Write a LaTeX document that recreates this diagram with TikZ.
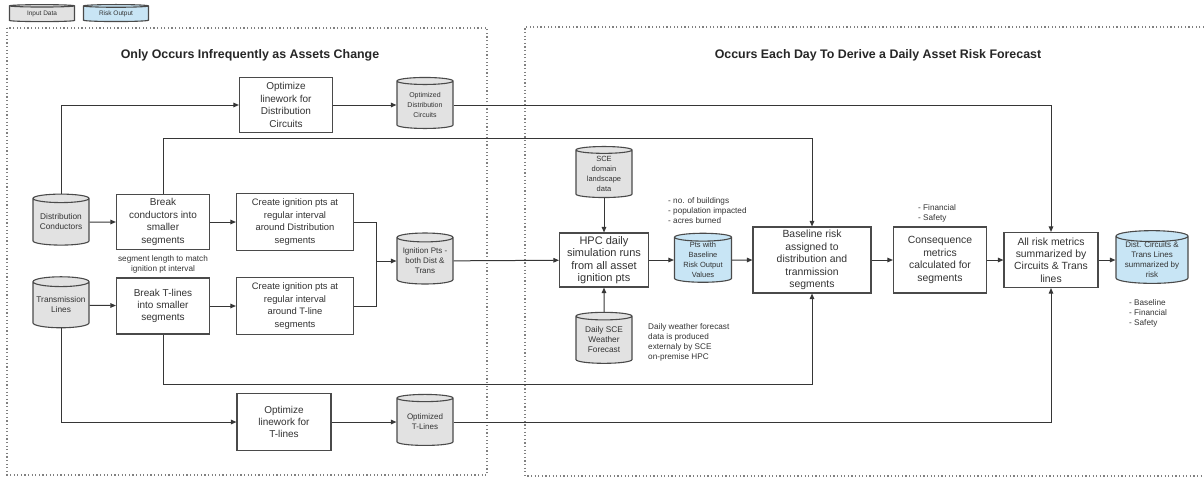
\documentclass[tikz,border=0pt]{standalone}
\usepackage{fontspec}
\setmainfont{Liberation Sans}
\usetikzlibrary{shapes.geometric,arrows.meta}

\definecolor{inputgray}{HTML}{E2E2E2}
\definecolor{riskblue}{HTML}{C8E5F5}
\definecolor{linegray}{HTML}{363636}
\definecolor{framegray}{HTML}{4A4A4A}
\definecolor{textgray}{HTML}{333333}

\begin{document}
\begin{tikzpicture}[
    x=1pt, y=-1pt,
    box/.style={rectangle, draw=framegray, line width=1.1pt, fill=white, minimum width=93pt, minimum height=55pt, align=center, inner sep=1pt, text=textgray, font=\fontsize{10}{12.4}\selectfont},
    store/.style={cylinder, shape border rotate=90, aspect=0.2, draw=framegray, line width=1.1pt, fill=inputgray, minimum width=56pt, minimum height=51pt, inner sep=0pt, align=center, text=textgray, font=\fontsize{7.5}{10}\selectfont},
    risk/.style={store, fill=riskblue},
    note/.style={align=left, inner sep=0pt, text=textgray, font=\fontsize{8.2}{10}\selectfont},
    title/.style={font=\bfseries\fontsize{12.4}{14}\selectfont, text=black!85},
    region/.style={draw=gray, line width=1.2pt, dash pattern=on 1.2pt off 2.4pt},
    arrow/.style={draw=linegray, line width=1pt, -{Triangle[length=5.5pt,width=4.5pt]}},
    link/.style={draw=linegray, line width=1pt}
]

\useasboundingbox (0,0) rectangle (1204,477);

% Legend
\node[store, minimum width=65pt, minimum height=17pt, aspect=0.08, font=\fontsize{6.5}{8}\selectfont] (legendinput) at (42,14) {Input Data};
\node[risk, minimum width=65pt, minimum height=17pt, aspect=0.08, font=\fontsize{6.5}{8}\selectfont] (legendrisk) at (116,14) {Risk Output};

% Regions
\draw[region] (7,28) rectangle (487,475);
\draw[region] (1204,27) -- (525,27) -- (525,476) -- (1204,476);
\node[title] (lefttitle) at (250,55) {Only Occurs Infrequently as Assets Change};
\node[title] (righttitle) at (878,55) {Occurs Each Day To Derive a Daily Asset Risk Forecast};

% Asset inputs
\node[store, font=\fontsize{8.3}{10}\selectfont] (distcond) at (61,222) {Distribution\\Conductors};
\node[store, font=\fontsize{8.3}{10}\selectfont] (translines) at (61,305) {Transmission\\Lines};

% Linework optimisation
\node[box] (optdistbox) at (286,105) {Optimize\\linework for\\Distribution\\Circuits};
\node[store, font=\fontsize{7}{10}\selectfont] (optdistcyl) at (425,105) {Optimized\\Distribution\\Circuits};
\node[box, minimum width=94pt, minimum height=57pt] (opttransbox) at (284,422) {Optimize\\linework for\\T-lines};
\node[store, font=\fontsize{8}{10}\selectfont] (opttranscyl) at (425,422) {Optimized\\T-Lines};

% Segments and ignition points
\node[box] (breakdist) at (163,222) {Break\\conductors into\\smaller\\segments};
\node[box, minimum height=56pt] (breaktrans) at (163,306) {Break T-lines\\into smaller\\segments};
\node[box, minimum width=117pt, minimum height=57pt, font=\fontsize{9.4}{12.4}\selectfont] (createdist) at (295,222) {Create ignition pts at\\regular interval\\around Distribution\\segments};
\node[box, minimum width=117pt, minimum height=57pt, font=\fontsize{9.4}{12.4}\selectfont] (createtrans) at (295,306) {Create ignition pts at\\regular interval\\around T-line\\segments};
\node[store, font=\fontsize{8}{10}\selectfont] (ignition) at (425,261) {Ignition Pts -\\both Dist \&\\Trans};
\node[note, align=center] (segnote) at (163,264) {segment length to match\\ignition pt interval};

% Daily simulation
\node[store] (landscape) at (604,174) {SCE\\domain\\landscape\\data};
\node[box, minimum width=89pt, minimum height=54pt, font=\fontsize{11}{12.4}\selectfont] (hpc) at (604,260) {HPC daily\\simulation runs\\from all asset\\ignition pts};
\node[store, font=\fontsize{8.3}{10}\selectfont] (weather) at (604,340) {Daily SCE\\Weather\\Forecast};
\node[risk, minimum width=57pt, minimum height=49pt] (ptsrisk) at (703,260) {Pts with\\Baseline\\Risk Output\\Values};
\node[note, anchor=west] (impactnote) at (668,211) {- no. of buildings\\- population impacted\\- acres burned};
\node[note, anchor=west] (weathernote) at (648,342) {Daily weather forecast\\data is produced\\externaly by SCE\\on-premise HPC};

% Risk metrics
\node[box, minimum width=118pt, minimum height=66pt, font=\fontsize{10.4}{12.4}\selectfont] (baseline) at (812,260) {Baseline risk\\assigned to\\distribution and\\tranmission\\segments};
\node[box, minimum height=66pt, font=\fontsize{10.4}{12.4}\selectfont] (consequence) at (940,260) {Consequence\\metrics\\calculated for\\segments};
\node[box, minimum width=94pt, font=\fontsize{10.4}{12.4}\selectfont] (allrisk) at (1051,260) {All risk metrics\\summarized by\\Circuits \& Trans\\lines};
\node[risk, minimum width=72pt, font=\fontsize{8}{10}\selectfont] (summary) at (1152,260) {Dist. Circuits \&\\Trans Lines\\summarized by\\risk};
\node[note, anchor=west] (consnote) at (918,213) {- Financial\\- Safety};
\node[note, anchor=west] (summarynote) at (1129,313) {- Baseline\\- Financial\\- Safety};

% Rails
\coordinate (merge) at (376,261);
\coordinate (toprail) at (0,138);
\coordinate (botrail) at (0,384);

% Connections
\draw[arrow] (distcond.north) |- (optdistbox.west);
\draw[arrow] (optdistbox) -- (optdistcyl);
\draw[arrow] (optdistcyl.east) -| (allrisk.north);

\draw[arrow] (distcond) -- (breakdist);
\draw[arrow] (breakdist) -- (createdist);
\draw[arrow] (translines) -- (breaktrans);
\draw[arrow] (breaktrans) -- (createtrans);
\draw[link] (createdist.east) -| (merge);
\draw[link] (createtrans.east) -| (merge);
\draw[arrow] (merge) -- (ignition);

\draw[arrow] (breakdist.north) |- (toprail -| baseline.north) -- (baseline.north);
\draw[arrow] (breaktrans.south) |- (botrail -| baseline.south) -- (baseline.south);

\draw[arrow] (ignition) -- (hpc);
\draw[arrow] (landscape) -- (hpc);
\draw[arrow] (weather) -- (hpc);
\draw[arrow] (hpc) -- (ptsrisk);
\draw[arrow] (ptsrisk) -- (baseline);
\draw[arrow] (baseline) -- (consequence);
\draw[arrow] (consequence) -- (allrisk);
\draw[arrow] (allrisk) -- (summary);

\draw[arrow] (translines.south) |- (opttransbox.west);
\draw[arrow] (opttransbox) -- (opttranscyl);
\draw[arrow] (opttranscyl.east) -| (allrisk.south);

\end{tikzpicture}
\end{document}
